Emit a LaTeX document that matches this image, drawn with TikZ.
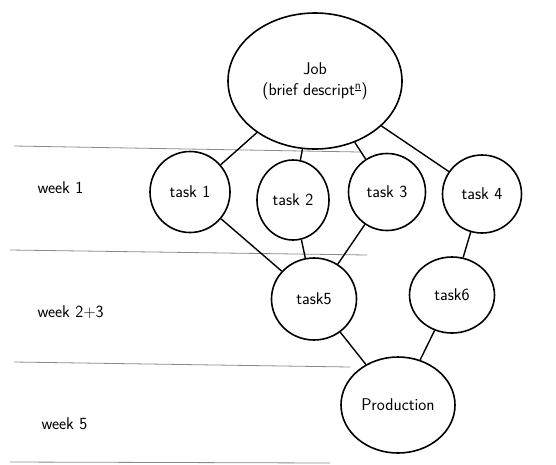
\documentclass[tikz,border=0pt]{standalone}
\usepackage{tikz}
\usetikzlibrary{shapes.geometric}
\definecolor{weekRuleGray}{HTML}{8A8A8A}

\begin{document}
\begin{tikzpicture}[x=1pt,y=-1pt,
    planNode/.style={draw, ellipse, line width=1.6pt, inner sep=0pt, font=\sffamily\fontsize{17}{21}\selectfont},
    weekRule/.style={weekRuleGray, line width=0.8pt},
    weekLabel/.style={font=\sffamily\fontsize{17}{21}\selectfont, anchor=west}]
            \useasboundingbox (0,0) rectangle (556,464);
            \draw[weekRule] (14,146) -- (360,152);
            \draw[weekRule] (10,250) -- (367,255);
            \draw[weekRule] (14,362) -- (350,367);
            \draw[weekRule] (10,462) -- (330,463);
            \node[weekLabel] (w1) at (34,188) {week 1};
            \node[weekLabel] (w23) at (34,312) {week 2+3};
            \node[weekLabel] (w5) at (38,424) {week 5};
            \node[planNode, minimum width=174, minimum height=136, align=center] (job) at (315,81)
                {Job\\(brief descript\textsuperscript{\underline{n}})};
            \node[planNode, minimum width=80, minimum height=81] (t1) at (190,192) {task 1};
            \node[planNode, minimum width=72, minimum height=80] (t2) at (293,200) {task 2};
            \node[planNode, minimum width=77, minimum height=77] (t3) at (387,192) {task 3};
            \node[planNode, minimum width=79, minimum height=78] (t4) at (482,194) {task 4};
            \node[planNode, minimum width=85, minimum height=82] (t5) at (314,299) {task5};
            \node[planNode, minimum width=85, minimum height=76] (t6) at (452,295) {task6};
            \node[planNode, minimum width=114, minimum height=96] (prod) at (398,405) {Production};
            \draw[line width=1.4pt] (job) -- (t1);
            \draw[line width=1.4pt] (job) -- (t2);
            \draw[line width=1.4pt] (job) -- (t3);
            \draw[line width=1.4pt] (job) -- (t4);
            \draw[line width=1.4pt] (t1) -- (t5);
            \draw[line width=1.4pt] (t2) -- (t5);
            \draw[line width=1.4pt] (t3) -- (t5);
            \draw[line width=1.4pt] (t4) -- (t6);
            \draw[line width=1.4pt] (t5) -- (prod);
            \draw[line width=1.4pt] (t6) -- (prod);
        \end{tikzpicture}
\end{document}
